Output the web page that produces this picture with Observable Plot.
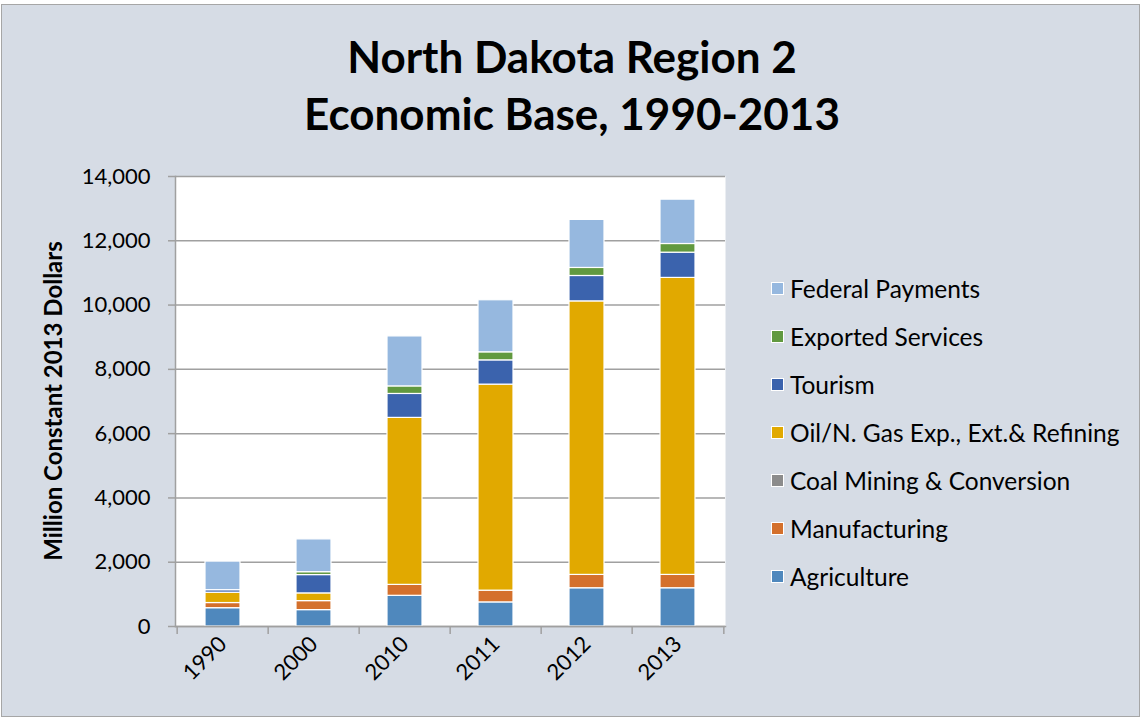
<!DOCTYPE html>
<html>
<head>
<meta charset="utf-8">
<script src="https://cdn.jsdelivr.net/npm/d3@7"></script>
<script src="https://cdn.jsdelivr.net/npm/@observablehq/plot@0.6"></script>
<style>
  html, body { margin: 0; padding: 0; background: #ffffff; }
  #chart { position: relative; width: 1144px; height: 720px; overflow: hidden; font-family: Lato, "Open Sans", sans-serif; }
  #bg { position: absolute; left: 1px; top: 4px; width: 1139px; height: 713px; background: #d6dce5; border: 1.5px solid #a6a6a6; box-sizing: border-box; }
  #title { position: absolute; left: 0; top: 28px; width: 1144px; text-align: center; font-weight: bold; font-size: 44px; line-height: 57px; color: #000; }
  #ylabel { position: absolute; left: 52px; top: 401px; transform: translate(-50%, -50%) rotate(-90deg); white-space: nowrap; font-weight: bold; font-size: 24px; color: #000; }
  #legend { position: absolute; left: 771px; top: 264px; }
  .item { height: 48px; display: flex; align-items: center; font-size: 24.5px; color: #000; }
  .item .sw { width: 13px; height: 13px; border: 1px solid #fff; margin-right: 6px; box-sizing: border-box; }
  #plot { position: absolute; left: 0; top: 0; }
</style>
</head>
<body>
<div id="chart">
  <div id="bg"></div>
  <div id="plot"></div>
  <div id="title">North Dakota Region 2<br>Economic Base, 1990-2013</div>
  <div id="ylabel">Million Constant 2013 Dollars</div>
  <div id="legend"></div>
</div>
<script>
const years = ["1990", "2000", "2010", "2011", "2012", "2013"];
const seriesNames = ["Agriculture", "Manufacturing", "Coal Mining & Conversion", "Oil/N. Gas Exp., Ext.& Refining", "Tourism", "Exported Services", "Federal Payments"];
const seriesColors = ["#4f88bd", "#d4702c", "#8c8c8c", "#e1a900", "#3b63ad", "#61993f", "#96b8df"];
const agriculture   = [570, 510, 955, 750, 1190, 1190];
const manufacturing = [160, 280, 340, 365, 415, 415];
const coal          = [0, 0, 0, 0, 0, 0];
const oil           = [320, 240, 5195, 6410, 8510, 9240];
const tourism       = [80, 570, 745, 755, 790, 785];
const exported      = [0, 90, 235, 250, 250, 270];
const federal       = [890, 1020, 1555, 1620, 1495, 1380];
const yTicks = [0, 2000, 4000, 6000, 8000, 10000, 12000, 14000];

const seriesValues = [agriculture, manufacturing, coal, oil, tourism, exported, federal];
const data = [];
seriesNames.forEach((s, si) => {
  years.forEach((y, yi) => data.push({year: y, series: s, value: seriesValues[si][yi]}));
});

const W = 1144, H = 720;
const mL = 175, mR = 419, mT = 176, mB = 94;
const step = (W - mL - mR) / years.length;

const plot = Plot.plot({
  width: W, height: H,
  marginLeft: mL, marginRight: mR, marginTop: mT, marginBottom: mB,
  style: {background: "transparent", fontFamily: "Lato, 'Open Sans', sans-serif", fontSize: "22px", color: "#000", overflow: "visible"},
  x: {domain: years, paddingInner: 0.62, paddingOuter: 0.31, label: null},
  y: {domain: [0, 14000], label: null},
  color: {domain: seriesNames, range: seriesColors},
  marks: [
    Plot.frame({fill: "white", stroke: null}),
    Plot.gridY(yTicks, {stroke: "#a0a0a0", strokeOpacity: 1, strokeWidth: 1.5}),
    Plot.barY(data, {x: "year", y: "value", fill: "series", stroke: "white", strokeWidth: 1.2}),
    Plot.frame({anchor: "left", stroke: "#a0a0a0", strokeWidth: 1.5}),
    Plot.frame({anchor: "bottom", stroke: "#a0a0a0", strokeWidth: 1.5}),
    Plot.ruleX(years, {x: d => d, y1: 0, y2: -250, dx: -step / 2, stroke: "#a0a0a0", strokeWidth: 1.5}),
    Plot.ruleX(years.slice(-1), {x: d => d, y1: 0, y2: -250, dx: step / 2, stroke: "#a0a0a0", strokeWidth: 1.5}),
    Plot.axisY(yTicks, {tickSize: 7, tickPadding: 18, stroke: "#a0a0a0", strokeWidth: 1.5, tickFormat: d3.format(","), fill: "#000", fontSize: 22, label: null}),
    Plot.axisX({tickSize: 0, tickRotate: -45, tickPadding: 14, fontSize: 22, fill: "#000", label: null})
  ]
});
document.getElementById("plot").appendChild(plot);

const legend = document.getElementById("legend");
const legendOrder = seriesNames.map((s, i) => i).reverse();
legendOrder.forEach(i => {
  const item = document.createElement("div");
  item.className = "item";
  const sw = document.createElement("div");
  sw.className = "sw";
  sw.style.background = seriesColors[i];
  const label = document.createElement("span");
  label.textContent = seriesNames[i];
  item.appendChild(sw);
  item.appendChild(label);
  legend.appendChild(item);
});
</script>
</body>
</html>
